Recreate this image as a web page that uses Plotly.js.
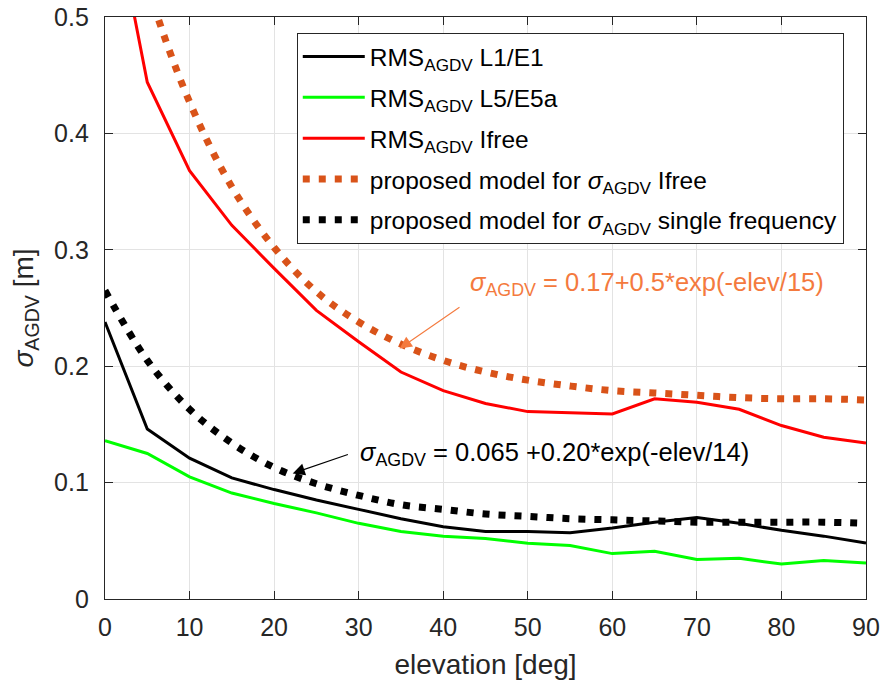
<!DOCTYPE html>
<html>
<head>
<meta charset="utf-8">
<script src="https://cdn.plot.ly/plotly-3.0.1.min.js"></script>
<style>
  html, body { margin: 0; padding: 0; background: #ffffff; }
  #chart { width: 884px; height: 682px; }
</style>
</head>
<body>
<div id="chart"></div>
<script>
// Elevation bins [deg]
const elevation = [0, 5, 10, 15, 20, 25, 30, 35, 40, 45, 50, 55, 60, 65, 70, 75, 80, 85, 90];

// Measured RMS of AGDV per elevation bin [m]
const rmsL1E1  = [0.238, 0.146, 0.121, 0.104, 0.094, 0.085, 0.077, 0.069, 0.062, 0.058, 0.058, 0.057, 0.061, 0.066, 0.070, 0.065, 0.059, 0.054, 0.048];
const rmsL5E5a = [0.136, 0.125, 0.105, 0.091, 0.082, 0.074, 0.065, 0.058, 0.054, 0.052, 0.048, 0.046, 0.039, 0.041, 0.034, 0.035, 0.030, 0.033, 0.031];
const rmsIfree = [0.630, 0.444, 0.368, 0.321, 0.284, 0.248, 0.221, 0.195, 0.179, 0.168, 0.161, 0.160, 0.159, 0.172, 0.169, 0.163, 0.149, 0.139, 0.134];

// Proposed sigma models [m]: 0.17+0.5*exp(-elev/15) and 0.065+0.20*exp(-elev/14)
const modelIfree  = [0.670, 0.528, 0.427, 0.354, 0.302, 0.264, 0.238, 0.219, 0.205, 0.195, 0.188, 0.183, 0.179, 0.177, 0.175, 0.173, 0.172, 0.172, 0.171];
const modelSingle = [0.265, 0.205, 0.163, 0.134, 0.113, 0.099, 0.089, 0.081, 0.077, 0.073, 0.071, 0.069, 0.068, 0.067, 0.066, 0.066, 0.066, 0.066, 0.065];

const seriesNames = [
  'RMS<sub>AGDV</sub> L1/E1',
  'RMS<sub>AGDV</sub> L5/E5a',
  'RMS<sub>AGDV</sub> Ifree',
  'proposed model for <i>σ</i><sub>AGDV</sub> Ifree',
  'proposed model for <i>σ</i><sub>AGDV</sub> single frequency'
];

const xTicks = [0, 10, 20, 30, 40, 50, 60, 70, 80, 90];
const yTicks = [0, 0.1, 0.2, 0.3, 0.4, 0.5];
const yTickText = ['0', '0.1', '0.2', '0.3', '0.4', '0.5'];

const axisGrey = '#262626';
const fontFam = 'Liberation Sans, Arial, Helvetica, sans-serif';
const annoOrange = '#F47A3E';

const traces = [
  { x: elevation, y: rmsL1E1,  name: seriesNames[0], legendgroup: 'a', mode: 'lines', line: { color: '#000000', width: 3 } },
  { x: elevation, y: rmsL5E5a, name: seriesNames[1], legendgroup: 'b', mode: 'lines', line: { color: '#00FF00', width: 3 } },
  { x: elevation, y: rmsIfree, name: seriesNames[2], legendgroup: 'c', mode: 'lines', line: { color: '#FF0000', width: 3 } },
  { x: elevation, y: modelIfree,  name: seriesNames[3], legendgroup: 'd', mode: 'lines', line: { color: '#D95319', width: 7, dash: '7px,9px', shape: 'spline' } },
  { x: elevation, y: modelSingle, name: seriesNames[4], legendgroup: 'e', mode: 'lines', line: { color: '#000000', width: 7, dash: '7px,9px', shape: 'spline' } }
];

const layout = {
  width: 884,
  height: 682,
  margin: { l: 105, r: 18, t: 17, b: 83, pad: 0 },
  paper_bgcolor: '#ffffff',
  plot_bgcolor: '#ffffff',
  font: { family: fontFam, color: axisGrey, size: 24 },
  showlegend: true,
  legend: {
    x: 0.252, y: 0.9725, xanchor: 'left', yanchor: 'top',
    bgcolor: '#ffffff', bordercolor: axisGrey, borderwidth: 1,
    font: { family: fontFam, size: 24.5, color: '#000000' },
    itemwidth: 62,
    tracegroupgap: 6,
    traceorder: 'grouped'
  },
  xaxis: {
    range: [0, 90],
    tickvals: xTicks,
    ticktext: xTicks.map(String),
    ticks: 'inside', ticklen: 8, tickwidth: 1.2, tickcolor: axisGrey,
    showline: true, linecolor: axisGrey, linewidth: 1.2, mirror: 'allticks',
    showgrid: true, gridcolor: '#E3E3E3', gridwidth: 1,
    zeroline: false,
    tickfont: { size: 25, color: axisGrey },
    ticklabelstandoff: 6,
    title: { text: 'elevation [deg]', font: { size: 28, color: axisGrey }, standoff: 14 }
  },
  yaxis: {
    range: [0, 0.5],
    tickvals: yTicks,
    ticktext: yTickText,
    ticks: 'inside', ticklen: 8, tickwidth: 1.2, tickcolor: axisGrey,
    showline: true, linecolor: axisGrey, linewidth: 1.2, mirror: 'allticks',
    showgrid: true, gridcolor: '#E3E3E3', gridwidth: 1,
    zeroline: false,
    tickfont: { size: 25, color: axisGrey },
    ticklabelstandoff: 10,
    title: { text: '<i>σ</i><sub>AGDV</sub> [m]', font: { size: 28, color: axisGrey }, standoff: 12 }
  },
  annotations: [
    // model formula labels
    { x: 42.9, y: 0.271, xref: 'x', yref: 'y', xanchor: 'left', yanchor: 'middle', showarrow: false,
      text: '<i>σ</i><sub>AGDV</sub> = 0.17+0.5*exp(-elev/15)', font: { size: 25.5, color: annoOrange } },
    { x: 29.9, y: 0.1245, xref: 'x', yref: 'y', xanchor: 'left', yanchor: 'middle', showarrow: false,
      text: '<i>σ</i><sub>AGDV</sub> = 0.065 +0.20*exp(-elev/14)', font: { size: 25.5, color: '#000000' } },
    // pointers from the labels to the model curves
    { x: 34.85, y: 0.2152, ax: 42.1, ay: 0.2515, xref: 'x', yref: 'y', axref: 'x', ayref: 'y',
      text: '', showarrow: true, arrowhead: 2, arrowsize: 2.2, arrowwidth: 1.1, arrowcolor: annoOrange },
    { x: 22.2, y: 0.1079, ax: 28.9, ay: 0.1245, xref: 'x', yref: 'y', axref: 'x', ayref: 'y',
      text: '', showarrow: true, arrowhead: 2, arrowsize: 2.2, arrowwidth: 1.1, arrowcolor: '#000000' }
  ]
};

Plotly.newPlot('chart', traces, layout, { displayModeBar: false, staticPlot: true });
</script>
</body>
</html>
